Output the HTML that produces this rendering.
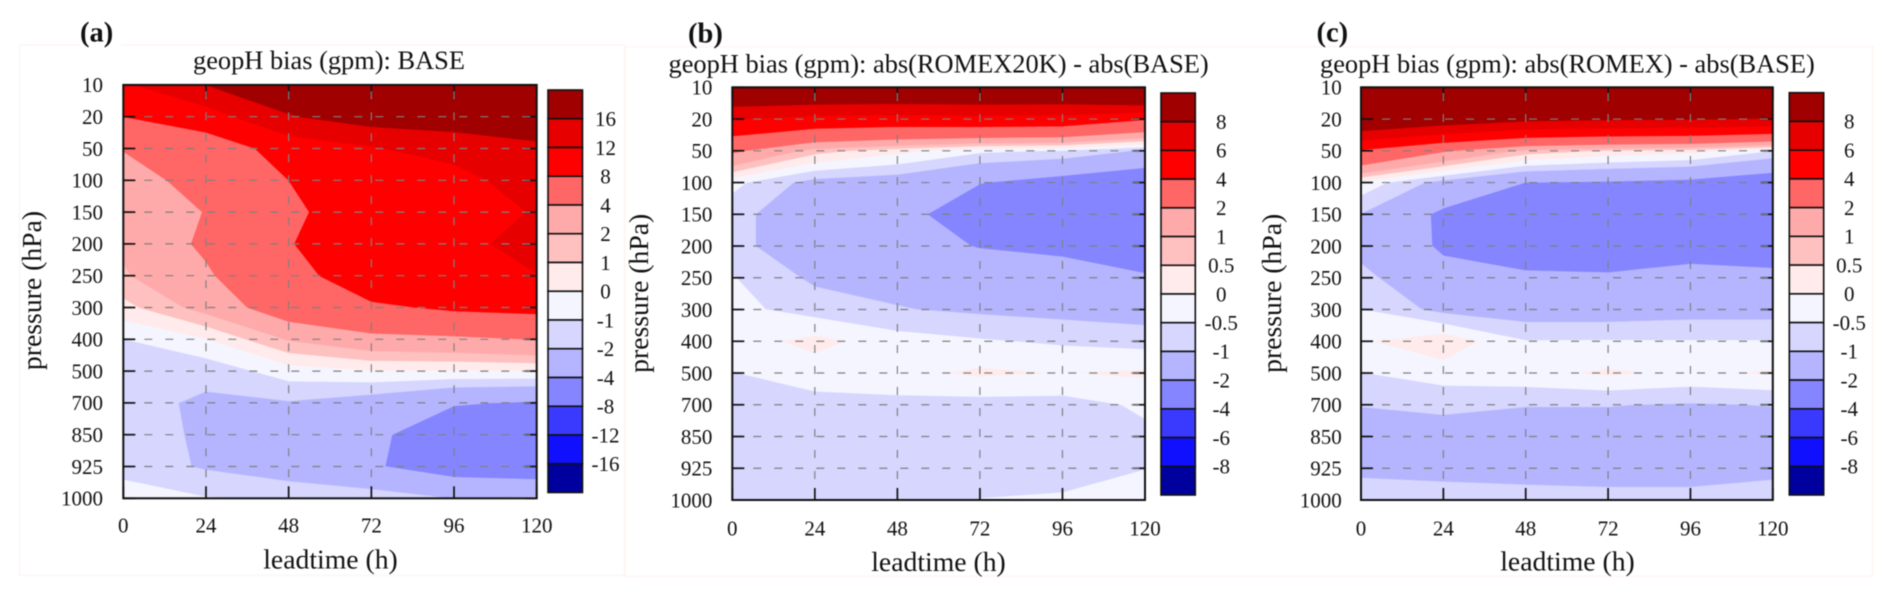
<!DOCTYPE html>
<html lang="en">
<head>
<meta charset="utf-8">
<title>geopH bias contour panels</title>
<style>
html,body{margin:0;padding:0;background:#fff;width:1892px;height:596px;overflow:hidden}
svg{display:block;filter:blur(0.45px)}
text{font-family:"Liberation Serif",serif;fill:#111}
.title{font-size:26.4px}
.axis-title{font-size:27.7px}
.panel-tag{font-size:28.5px;font-weight:bold}
.tick{font-size:21px}
</style>
</head>
<body>
<svg id="figure" xmlns="http://www.w3.org/2000/svg" width="1892" height="596" viewBox="0 0 1892 596">
  <path d="M80 45H19.6V575.3H624.6V45H121" fill="none" stroke="#fdf2ed" stroke-width="1"/>
  <path d="M625 46.7H1872.7V576.3H625Z" fill="none" stroke="#fdf2ed" stroke-width="1"/>
  <g id="panel-a"></g>
  <g id="panel-b"></g>
  <g id="panel-c"></g>

  <text class="panel-tag" x="80" y="41.5">(a)</text>
  <text class="panel-tag" x="688" y="42.5">(b)</text>
  <text class="panel-tag" x="1316.5" y="41.5">(c)</text>

  <text class="title" x="193" y="69">geopH bias (gpm): BASE</text>
  <text class="title" x="668.5" y="72.5">geopH bias (gpm): abs(ROMEX20K) - abs(BASE)</text>
  <text class="title" x="1320" y="72.5">geopH bias (gpm): abs(ROMEX) - abs(BASE)</text>

  <text class="axis-title" x="330.5" y="568.5" text-anchor="middle">leadtime (h)</text>
  <text class="axis-title" x="938.5" y="571" text-anchor="middle">leadtime (h)</text>
  <text class="axis-title" x="1567.5" y="570.5" text-anchor="middle">leadtime (h)</text>

  <text class="axis-title" transform="translate(41 290.5) rotate(-90)" text-anchor="middle">pressure (hPa)</text>
  <text class="axis-title" transform="translate(648 293.3) rotate(-90)" text-anchor="middle">pressure (hPa)</text>
  <text class="axis-title" transform="translate(1281 293.3) rotate(-90)" text-anchor="middle">pressure (hPa)</text>
</svg>

<script>
// ---- data ----
const pressureLevels = [10, 20, 50, 100, 150, 200, 250, 300, 400, 500, 700, 850, 925, 1000];
const leadTimes = [0, 24, 48, 72, 96, 120];
const xTickLabels = [0, 24, 48, 72, 96, 120];

const contourLevelsA = [16, 12, 8, 4, 2, 1, 0, -1, -2, -4, -8, -12, -16];
const contourLevelsDiff = [8, 6, 4, 2, 1, 0.5, 0, -0.5, -1, -2, -4, -6, -8];

const bandColors = ['#a00000', '#e60000', '#ff0000', '#ff6666', '#ffaaaa', '#ffc0c0', '#ffebeb',
                    '#f5f5ff', '#d6d6ff', '#b5b5ff', '#8585ff', '#3a3aff', '#1010ff', '#00009f'];

// rows: pressure level, columns: lead time
const biasBase = [
  [11.4, 16, 19, 19, 19, 19.5],
  [8, 10.1, 15.7, 18, 17.8, 18],
  [4.1, 5.8, 9.5, 11.6, 14, 15.4],
  [3, 4.9, 8, 11.4, 10, 15],
  [2.9, 4.05, 6.93, 11.2, 10, 12.3],
  [2.3, 4.37, 7.77, 11, 10, 14.5],
  [1.82, 3.7, 6.4, 10.7, 9.3, 11.8],
  [0.65, 2.5, 5.49, 7.37, 8.55, 9],
  [-1.02, -0.05, 2.1, 3.2, 3.47, 4.05],
  [-1.25, -1.65, -0.5, -0.1, -0.1, -0.05],
  [-1.6, -2.2, -2.1, -2.7, -3.85, -4.2],
  [-1.5, -2.18, -3, -3.5, -5.5, -6],
  [-1.4, -2.13, -2.8, -3.8, -5, -5.5],
  [-0.45, -0.95, -1.1, -1.3, -2.05, -1.85]
];
const biasRomex20k = [
  [11, 11, 11, 11, 11, 13],
  [6.05, 5.4, 5.2, 5.4, 5.3, 4.1],
  [2.2, 0.7, 0.15, -0.4, -0.55, -1.1],
  [-0.35, -1.23, -1.4, -1.97, -2.4, -2.8],
  [-0.8, -1.51, -1.65, -2.62, -3.2, -3.5],
  [-0.8, -1.51, -1.6, -2.05, -2.3, -2.8],
  [-0.47, -1.11, -1.2, -1.4, -1.42, -1.87],
  [-0.35, -0.72, -0.97, -1.1, -1.2, -1.3],
  [-0.24, 0.15, -0.28, -0.45, -0.58, -0.7],
  [-0.52, -0.245, -0.14, 0.08, -0.02, 0.07],
  [-0.7, -0.69, -0.66, -0.7, -0.7, -0.42],
  [-0.8, -0.8, -0.8, -0.8, -0.8, -0.6],
  [-0.8, -0.8, -0.8, -0.7, -0.6, -0.51],
  [-0.8, -0.8, -0.8, -0.49, -0.47, -0.3]
];
const biasRomex = [
  [14, 14, 14, 14, 14, 14],
  [10.5, 9.4, 8.5, 8.2, 8.1, 7.8],
  [3.8, 2.1, 0.8, 0.4, 0.2, -0.5],
  [-0.15, -1.25, -2.01, -2.1, -2.25, -2.7],
  [-1.02, -2.18, -2.8, -2.9, -3, -3.2],
  [-1.25, -2.12, -2.8, -2.9, -2.7, -2.8],
  [-0.8, -1.73, -1.77, -1.83, -1.47, -1.66],
  [-0.5, -1.18, -1.35, -1.35, -1.25, -1.25],
  [-0.07, 0.34, -0.48, -0.47, -0.48, -0.48],
  [-0.52, -0.24, -0.14, 0.07, -0.1, 0.05],
  [-0.98, -0.91, -0.98, -0.98, -1.05, -0.98],
  [-1.3, -1.2, -1.3, -1.3, -1.35, -1.3],
  [-1.09, -1.3, -1.3, -1.3, -1.3, -1.2],
  [-0.8, -0.6, -0.73, -0.8, -0.8, -0.66]
];

// ---- drawing ----
const SVGNS = 'http://www.w3.org/2000/svg';
function mk(parent, tag, attrs, txt) {
  const el = document.createElementNS(SVGNS, tag);
  for (const k in attrs) el.setAttribute(k, attrs[k]);
  if (txt !== undefined) el.textContent = txt;
  parent.appendChild(el);
  return el;
}
// keep the part of a polygon where sign*(v-t) >= 0; vertices interpolate linearly along edges
function clipPoly(poly, t, sign) {
  const out = [];
  for (let i = 0; i < poly.length; i++) {
    const a = poly[i], b = poly[(i + 1) % poly.length];
    const ia = sign * (a.v - t) >= 0, ib = sign * (b.v - t) >= 0;
    if (ia) out.push(a);
    if (ia !== ib) {
      const f = (t - a.v) / (b.v - a.v);
      out.push({ x: a.x + f * (b.x - a.x), y: a.y + f * (b.y - a.y), v: t });
    }
  }
  return out;
}
function drawPanel(id, grid, contourLevels, box, cbar, lab) {
  const g = document.getElementById(id);
  const xAt = h => box.left + (h - leadTimes[0]) / (leadTimes[leadTimes.length - 1] - leadTimes[0]) * box.width;
  const yAt = i => box.top + i * box.height / (pressureLevels.length - 1);

  // filled contour bands
  const bandsGroup = mk(g, 'g', {});
  
  
  for (let b = bandColors.length - 1; b >= 0; b--) {
    const hi = b === 0 ? Infinity : contourLevels[b - 1];
    const lo = b === contourLevels.length ? -Infinity : contourLevels[b];
    let d = '';
    for (let r = 0; r < pressureLevels.length - 1; r++) {
      for (let c = 0; c < leadTimes.length - 1; c++) {
        let poly = [
          { x: xAt(leadTimes[c]), y: yAt(r), v: grid[r][c] },
          { x: xAt(leadTimes[c + 1]), y: yAt(r), v: grid[r][c + 1] },
          { x: xAt(leadTimes[c + 1]), y: yAt(r + 1), v: grid[r + 1][c + 1] },
          { x: xAt(leadTimes[c]), y: yAt(r + 1), v: grid[r + 1][c] }
        ];
        if (lo !== -Infinity) poly = clipPoly(poly, lo, 1);
        if (poly.length && hi !== Infinity) poly = clipPoly(poly, hi, -1);
        if (poly.length > 2) {
          d += 'M' + poly.map(p => p.x.toFixed(2) + ' ' + p.y.toFixed(2)).join('L') + 'Z';
        }
      }
    }
    if (d) {
      const band = mk(bandsGroup, 'path', { d: d, fill: bandColors[b], stroke: bandColors[b], 'stroke-width': 0.6 });
      
      
    }
  }

  const right = box.left + box.width, bottom = box.top + box.height;
  // top and right ticks sit under the grid
  leadTimes.forEach(h => {
    const t = mk(g, 'line', { x1: xAt(h), x2: xAt(h), y1: box.top, y2: box.top + 12, stroke: '#111', 'stroke-width': 1.7 });
    
    
  });
  pressureLevels.forEach((p, i) => {
    const t = mk(g, 'line', { x1: right - 12, x2: right, y1: yAt(i), y2: yAt(i), stroke: '#111', 'stroke-width': 1.7 });
    
    
  });
  // dashed grid
  leadTimes.slice(1, -1).forEach(h => {
    const l = mk(g, 'line', { x1: xAt(h), x2: xAt(h), y1: bottom, y2: box.top, stroke: '#808080', 'stroke-width': 1.2, 'stroke-dasharray': '8 13' });
    
    
  });
  pressureLevels.slice(1, -1).forEach((p, k) => {
    const l = mk(g, 'line', { x1: box.left, x2: right, y1: yAt(k + 1), y2: yAt(k + 1), stroke: '#808080', 'stroke-width': 1.2, 'stroke-dasharray': '8 13' });
    
    
  });
  // bottom / left ticks and labels
  leadTimes.forEach((h, i) => {
    const t = mk(g, 'line', { x1: xAt(h), x2: xAt(h), y1: bottom - 12, y2: bottom, stroke: '#111', 'stroke-width': 1.7 });
    
    
    const s = mk(g, 'text', { class: 'tick', x: xAt(h), y: lab.xBase, 'text-anchor': 'middle' }, xTickLabels[i]);
    
    
  });
  pressureLevels.forEach((p, i) => {
    const t = mk(g, 'line', { x1: box.left, x2: box.left + 12, y1: yAt(i), y2: yAt(i), stroke: '#111', 'stroke-width': 1.7 });
    
    
    const s = mk(g, 'text', { class: 'tick', x: lab.yRight, y: yAt(i) + 7.3, 'text-anchor': 'end' }, p);
    
    
  });
  // plot border
  const frame = mk(g, 'rect', { x: box.left, y: box.top, width: box.width, height: box.height, fill: 'none', stroke: '#111', 'stroke-width': 2 });
  
  

  // colour bar
  const cbGroup = mk(g, 'g', {});
  
  
  const boxH = (cbar.bottom - cbar.top) / bandColors.length;
  bandColors.forEach((col, i) => {
    const r = mk(cbGroup, 'rect', { x: cbar.left, y: cbar.top + i * boxH, width: cbar.width, height: boxH, fill: col, stroke: '#111', 'stroke-width': 1.6 });
    
    
  });
  contourLevels.forEach((v, i) => {
    const s = mk(cbGroup, 'text', { class: 'tick', x: cbar.labelX, y: cbar.top + (i + 1) * boxH + 7.3, 'text-anchor': 'middle' }, v);
    
    
  });
}

drawPanel('panel-a', biasBase, contourLevelsA,
  { left: 123.3, top: 84.9, width: 413.4, height: 413.4 },
  { left: 548, width: 34.5, top: 90, bottom: 492.5, labelX: 605.5 },
  { xBase: 532.7, yRight: 103 });
drawPanel('panel-b', biasRomex20k, contourLevelsDiff,
  { left: 732.3, top: 87.3, width: 412.7, height: 412.7 },
  { left: 1161, width: 34.3, top: 93, bottom: 495, labelX: 1221.3 },
  { xBase: 535.3, yRight: 712.4 });
drawPanel('panel-c', biasRomex, contourLevelsDiff,
  { left: 1361, top: 87.3, width: 411.8, height: 412.7 },
  { left: 1789.3, width: 34.4, top: 92.7, bottom: 495, labelX: 1849.3 },
  { xBase: 535.3, yRight: 1341.7 });
</script>
</body>
</html>
